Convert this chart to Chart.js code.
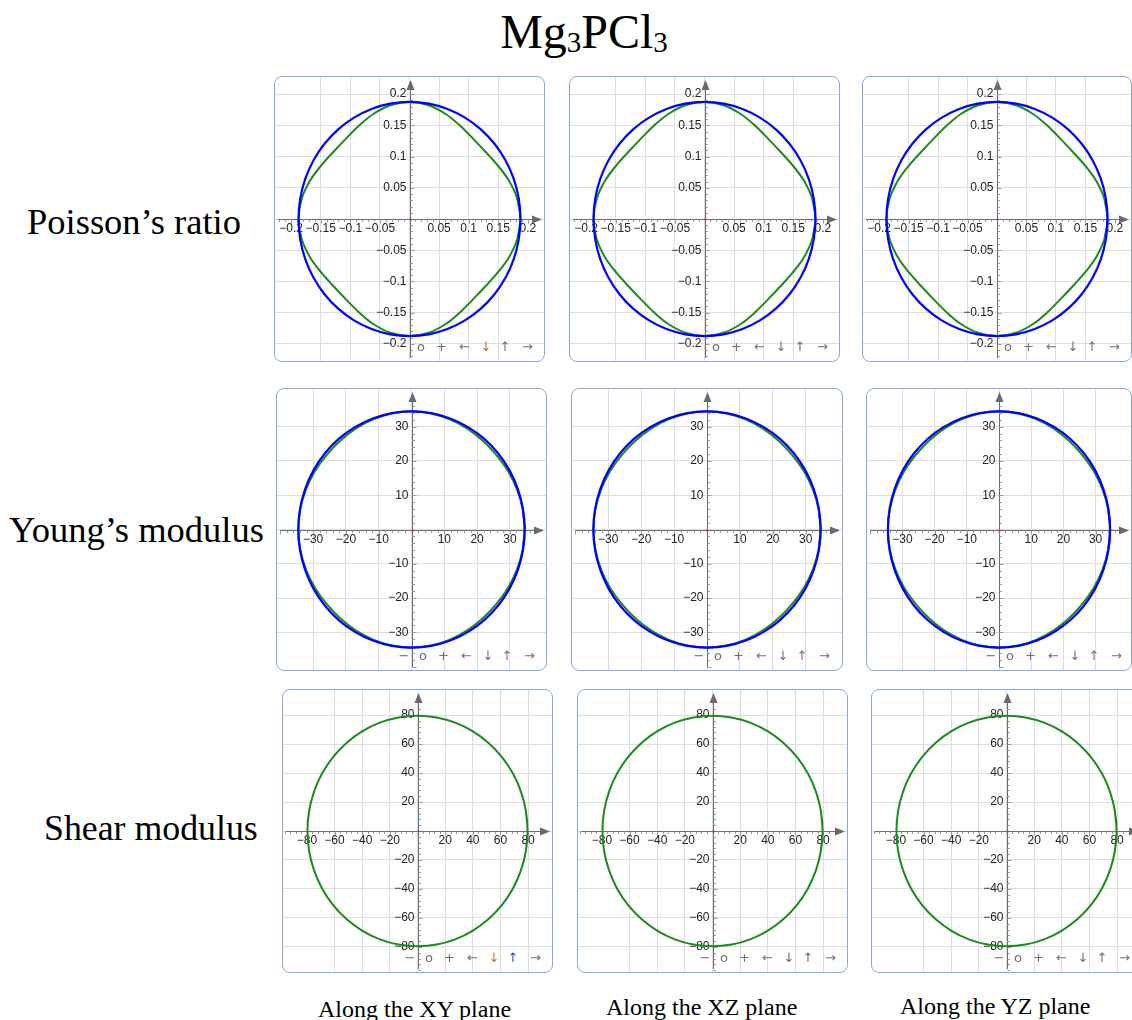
<!DOCTYPE html>
<html>
<head>
<meta charset="utf-8">
<script src="https://cdn.jsdelivr.net/npm/chart.js@4.4.1/dist/chart.umd.min.js"></script>
<style>
  html, body { margin: 0; padding: 0; background: #fff; }
  body { position: relative; width: 1132px; height: 1020px; overflow: hidden;
         font-family: "Liberation Serif", "Times New Roman", serif; color: #000; }
  .panel { position: absolute; overflow: hidden; border-radius: 8px; background: #fff; }
  .panel canvas { position: absolute; left: 0; top: 0; }
  .frame { position: absolute; border: 1.5px solid #8aa9d0; border-radius: 8px; box-sizing: border-box; pointer-events: none; }
  .txt { position: absolute; white-space: nowrap; }
  .title { font-size: 48px; line-height: 48px; }
  .title sub { font-size: 29px; vertical-align: baseline; position: relative; top: 4px; }
  .row { font-size: 36.5px; line-height: 36px; }
  .col { font-size: 24px; line-height: 24px; }
</style>
</head>
<body>

<div class="txt title" style="left:0; width:1168px; text-align:center; top:8px;">Mg<sub>3</sub>PCl<sub>3</sub></div>

<div class="txt row" style="left:27px; top:204px;">Poisson’s ratio</div>
<div class="txt row" style="left:9px; top:512px;">Young’s modulus</div>
<div class="txt row" style="left:44px; top:810px; font-size:35.8px;">Shear modulus</div>

<div class="txt col" style="left:318px; top:997px;">Along the XY plane</div>
<div class="txt col" style="left:606px; top:995px;">Along the XZ plane</div>
<div class="txt col" style="left:900px; top:994px;">Along the YZ plane</div>

<script>
// Polar sampling angles (degrees) shared by every curve
const angleDeg = [0, 10, 20, 30, 40, 50, 60, 70, 80, 90, 100, 110,
                  120, 130, 140, 150, 160, 170, 180, 190, 200, 210, 220, 230,
                  240, 250, 260, 270, 280, 290, 300, 310, 320, 330, 340, 350];

// Poisson's ratio: outer (blue) and inner (green) surfaces
const poissonOuter = [0.1875, 0.1875, 0.1875, 0.1875, 0.1875, 0.1875, 0.1875, 0.1875, 0.1875, 0.1875, 0.1875, 0.1875,
                      0.1875, 0.1875, 0.1875, 0.1875, 0.1875, 0.1875, 0.1875, 0.1875, 0.1875, 0.1875, 0.1875, 0.1875,
                      0.1875, 0.1875, 0.1875, 0.1875, 0.1875, 0.1875, 0.1875, 0.1875, 0.1875, 0.1875, 0.1875, 0.1875];
const poissonInner = [0.1875, 0.185, 0.179, 0.172, 0.1676, 0.1676, 0.172, 0.179, 0.185,
                      0.1875, 0.185, 0.179, 0.172, 0.1676, 0.1676, 0.172, 0.179, 0.185,
                      0.1875, 0.185, 0.179, 0.172, 0.1676, 0.1676, 0.172, 0.179, 0.185,
                      0.1875, 0.185, 0.179, 0.172, 0.1676, 0.1676, 0.172, 0.179, 0.185];

// Young's modulus (GPa)
const youngOuter = [34.5, 34.5, 34.5, 34.5, 34.5, 34.5, 34.5, 34.5, 34.5, 34.5, 34.5, 34.5,
                    34.5, 34.5, 34.5, 34.5, 34.5, 34.5, 34.5, 34.5, 34.5, 34.5, 34.5, 34.5,
                    34.5, 34.5, 34.5, 34.5, 34.5, 34.5, 34.5, 34.5, 34.5, 34.5, 34.5, 34.5];
const youngInner = [34.5, 34.4, 34.2, 34.0, 33.8, 33.8, 34.0, 34.2, 34.4,
                    34.5, 34.4, 34.2, 34.0, 33.8, 33.8, 34.0, 34.2, 34.4,
                    34.5, 34.4, 34.2, 34.0, 33.8, 33.8, 34.0, 34.2, 34.4,
                    34.5, 34.4, 34.2, 34.0, 33.8, 33.8, 34.0, 34.2, 34.4];

// Shear modulus (GPa)
const shearCurve = [79.6, 79.6, 79.6, 79.6, 79.6, 79.6, 79.6, 79.6, 79.6, 79.6, 79.6, 79.6,
                    79.6, 79.6, 79.6, 79.6, 79.6, 79.6, 79.6, 79.6, 79.6, 79.6, 79.6, 79.6,
                    79.6, 79.6, 79.6, 79.6, 79.6, 79.6, 79.6, 79.6, 79.6, 79.6, 79.6, 79.6];

// Labelled axis ticks per quantity
const poissonTicks = [-0.2, -0.15, -0.1, -0.05, 0.05, 0.1, 0.15, 0.2];
const youngTicks = [-30, -20, -10, 10, 20, 30];
const shearTicks = [-80, -60, -40, -20, 20, 40, 60, 80];

const planes = ['XY', 'XZ', 'YZ'];

// polar (angle, r) -> closed list of cartesian points, wrapped so the spline closes smoothly
function toLoop(rs) {
  const n = rs.length, pts = [];
  for (let k = -1; k <= n + 1; k++) {
    const i = (k + n) % n;
    const a = angleDeg[i] * Math.PI / 180;
    pts.push({ x: rs[i] * Math.cos(a), y: rs[i] * Math.sin(a) });
  }
  return pts;
}

function fmt(v) {
  return String(v).replace('-', '\u2212');
}

// Axis lines, arrows, tick marks, labels and the small toolbar glyphs
const planeAxes = {
  id: 'planeAxes',
  beforeDatasetsDraw(chart, args, o) {
    const { ctx, scales: { x, y }, width, height } = chart;
    const x0 = Math.round(x.getPixelForValue(0)) + 0.5;
    const y0 = Math.round(y.getPixelForValue(0)) + 0.5;
    ctx.save();
    const axisCol = '#6a6a6a';
    ctx.strokeStyle = axisCol; ctx.fillStyle = axisCol; ctx.lineWidth = 1;
    ctx.beginPath();
    ctx.moveTo(4, y0); ctx.lineTo(width - 10, y0);
    ctx.moveTo(x0, height - 4); ctx.lineTo(x0, 12);
    ctx.stroke();
    ctx.beginPath();
    ctx.moveTo(width - 3, y0); ctx.lineTo(width - 13, y0 - 4); ctx.lineTo(width - 13, y0 + 4); ctx.closePath(); ctx.fill();
    ctx.beginPath();
    ctx.moveTo(x0, 4); ctx.lineTo(x0 - 4, 14); ctx.lineTo(x0 + 4, 14); ctx.closePath(); ctx.fill();

    // minor ticks
    ctx.strokeStyle = '#9a9a9a';
    const minor = o.step / 5;
    ctx.beginPath();
    for (let k = Math.ceil(x.min / minor); k * minor <= x.max; k++) {
      if (k === 0) continue;
      const px = Math.round(x.getPixelForValue(k * minor)) + 0.5;
      if (px > width - 14) continue;
      const len = (k % 5 === 0) ? 4 : 2.5;
      ctx.moveTo(px, y0); ctx.lineTo(px, y0 + len);
    }
    for (let k = Math.ceil(y.min / minor); k * minor <= y.max; k++) {
      if (k === 0) continue;
      const py = Math.round(y.getPixelForValue(k * minor)) + 0.5;
      if (py < 15) continue;
      const len = (k % 5 === 0) ? 4 : 2.5;
      ctx.moveTo(x0, py); ctx.lineTo(x0 + len, py);
    }
    ctx.stroke();

    // origin mark
    ctx.fillStyle = '#e03030';
    ctx.fillRect(x0 - 1, y0 - 1, 2, 2);

    // tick labels
    ctx.fillStyle = '#222';
    ctx.font = '12px "Liberation Sans", Arial, sans-serif';
    ctx.textBaseline = 'middle';
    ctx.textAlign = 'center';
    for (const v of o.ticks) ctx.fillText(fmt(v), x.getPixelForValue(v), y0 + 9);
    ctx.textAlign = 'right';
    for (const v of o.ticks) ctx.fillText(fmt(v), x0 - 4, y.getPixelForValue(v));

    // toolbar glyphs
    ctx.font = '13px "DejaVu Sans", "Liberation Sans", sans-serif';
    ctx.textAlign = 'center';
    const ny = height - 14.5;
    const glyphs = o.minus ? [['\u2212', -8.5]] : [];
    glyphs.push(['o', 10.5], ['+', 31], ['\u2190', 54], ['\u2193', 75.5], ['\u2191', 94.5], ['\u2192', 117]);
    for (const [g, dx] of glyphs) {
      ctx.fillStyle = (o.navColors && o.navColors[g]) || '#707070';
      ctx.fillText(g, x0 + dx, ny);
    }
    ctx.restore();
  }
};

function gridColor(step) {
  return (c) => {
    const v = c.tick && c.tick.value;
    if (v === undefined) return 'transparent';
    const q = v / step;
    return Math.abs(q - Math.round(q)) < 1e-6 ? '#dedede' : 'transparent';
  };
}

function makePanel(box, cfg) {
  const [left, top, w, h] = box;
  const holder = document.createElement('div');
  holder.className = 'panel';
  Object.assign(holder.style, { left: left + 'px', top: top + 'px', width: w + 'px', height: h + 'px' });
  const cv = document.createElement('canvas');
  cv.width = w; cv.height = h;
  cv.style.width = w + 'px'; cv.style.height = h + 'px';
  holder.appendChild(cv);
  document.body.appendChild(holder);
  const frame = document.createElement('div');
  frame.className = 'frame';
  Object.assign(frame.style, { left: left + 'px', top: top + 'px', width: w + 'px', height: h + 'px' });
  document.body.appendChild(frame);

  const datasets = cfg.curves.map(c => ({
    data: toLoop(c.values),
    borderColor: c.color,
    borderWidth: c.width,
    showLine: true,
    fill: false,
    pointRadius: 0,
    tension: 0.335
  }));

  const scaleOpts = (R) => ({
    type: 'linear', min: -R, max: R,
    ticks: { display: false, stepSize: cfg.step },
    grid: { color: gridColor(cfg.step), lineWidth: 1, drawTicks: false },
    border: { display: false }
  });

  new Chart(cv, {
    type: 'scatter',
    data: { datasets },
    options: {
      responsive: false,
      animation: false,
      events: [],
      layout: { padding: 0, autoPadding: false },
      scales: { x: scaleOpts(cfg.range), y: scaleOpts(cfg.range) },
      plugins: {
        legend: { display: false },
        tooltip: { enabled: false },
        planeAxes: { step: cfg.step, ticks: cfg.ticks, minus: cfg.minus, navColors: cfg.navColors }
      }
    },
    plugins: [planeAxes]
  });
}

const BLUE = '#0000ff', GREEN = '#1d8a1d';

const rows = [
  {
    boxes: [[274, 76, 271, 286], [569, 76, 271, 286], [862, 76, 270, 286]],
    range: 0.229, step: 0.05, ticks: poissonTicks, minus: false,
    curves: [{ values: poissonOuter, color: BLUE, width: 2.2 }, { values: poissonInner, color: GREEN, width: 2 }]
  },
  {
    boxes: [[276, 388, 271, 283], [571, 388, 272, 283], [866, 388, 266, 283]],
    range: 41.3, step: 10, ticks: youngTicks, minus: true,
    curves: [{ values: youngOuter, color: BLUE, width: 2.2 }, { values: youngInner, color: GREEN, width: 2 }]
  },
  {
    boxes: [[282, 689, 271, 284], [577, 689, 271, 284], [871, 689, 271, 284]],
    range: 98, step: 20, ticks: shearTicks, minus: true,
    curves: [{ values: shearCurve, color: GREEN, width: 2 }]
  }
];

rows.forEach((row, r) => {
  row.boxes.forEach((box, c) => {
    const navColors = (c === 0 && r === 0) ? { '\u2193': '#c0702a' } :
                      (c === 0 && r === 2) ? { '\u2193': '#c0702a', '\u2191': '#3050c0' } : null;
    makePanel(box, { ...row, navColors, plane: planes[c] });
  });
});
</script>
</body>
</html>
